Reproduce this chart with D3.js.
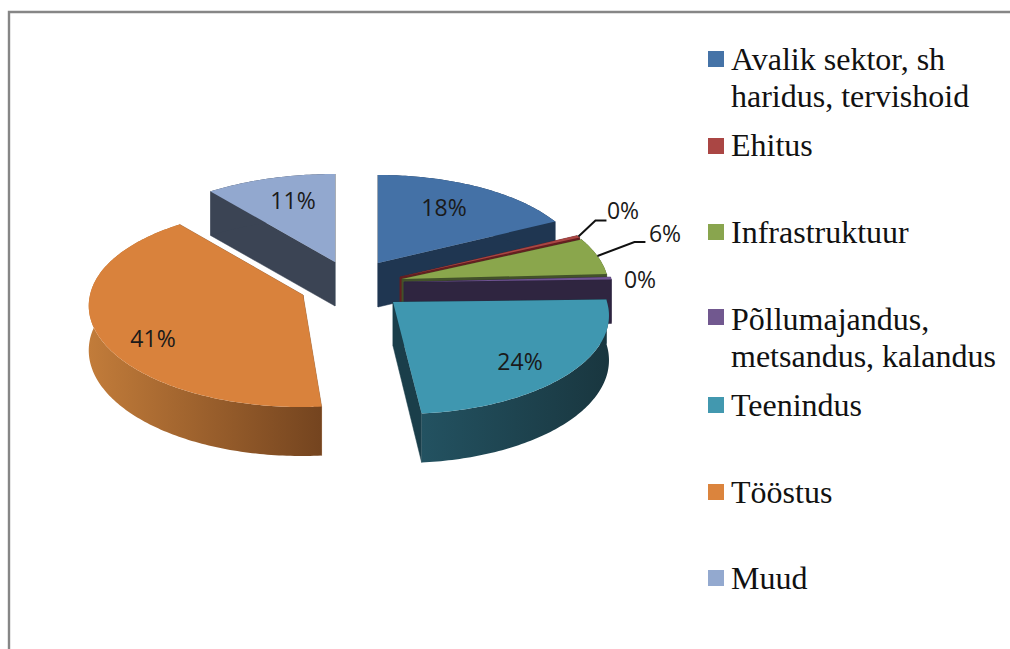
<!DOCTYPE html>
<html><head><meta charset="utf-8">
<script src="https://cdn.jsdelivr.net/npm/d3@7"></script>
<style>html,body{margin:0;padding:0;background:#fff;overflow:hidden}svg{display:block}</style>
</head><body><svg id="c" width="1010" height="649"></svg>
<script>
// ---- data
const categories = ["Avalik sektor, sh|haridus, tervishoid","Ehitus","Infrastruktuur","Põllumajandus,|metsandus, kalandus","Teenindus","Tööstus","Muud"];
const values = [17.8,0.4,6,0.4,24,40.6,10.8];
// ---- styles
const topColors = ["#4471a6","#a94643","#8aa64c","#6f5392","#3f97b0","#d9823c","#92a8cf"];
const wallColors = ["#1f3651","#641f20","#43522a","#2f2540","#1a3e4a","#8a5226","#3b4454"];
const legendColors = ["#4573a7","#aa4644","#89a54e","#71588f","#4298af","#db843d","#93a9cf"];
// ---- layout
const centre = [356,280];
const sliceOffsets = [[22,-17],[44,-3],[46,-1],[48,2],[37,22],[-53,15],[-21,-18]];
const sliceRadius = [206,206,206,208,214,213,215];
const frontSkew = [8,8,8,8,8,-2,8];
const drawOrder = [6,0,1,2,3,5,4];
const labelPos = [[444,216],[623,219],[665,242],[640,288],[520,370],[153,347],[293,209]];
const legendRows = [70,156,243,330,416,503,589];
const swatchRows = [70,157,243,328,416,503,589];
const leader = {1:[[17,-16],[28,-16]], 2:[[37,-14],[48,-14]]};

const svg = d3.select("#c");
const defs = svg.append("defs");
function grad(id,a,b){const g=defs.append("linearGradient").attr("id",id).attr("gradientUnits","objectBoundingBox");
  g.append("stop").attr("offset",0).attr("stop-color",a);g.append("stop").attr("offset",1).attr("stop-color",b);}
grad("orangeWall","#c27c3a","#74441f");
grad("tealWall","#235261","#19363f");

// frame
svg.append("path").attr("d",d3.line()([[9,649],[9,12],[1010,12]])).attr("fill","none").attr("stroke","#868686").attr("stroke-width",2.4);

const pie = d3.pie().sort(null).value(d=>d);
const arcs = pie(values);
const line = d3.line();

// oblique projection of the tilted disc: r in 0..1, a clockwise from the top
function project(r,a,R,skew){
  const s=Math.sin(a),c=Math.cos(a),k=r;
  return [R*k*s*(1-0.1*k*c)+(c<0?skew*k*(-c):0), -k*c*(100-12*k*c)];
}
function height(r,a){const c=Math.cos(a);return 44+5*r*Math.max(0,-c);}
function down(p,h){return [p[0],p[1]+h];}

const sliceG = svg.append("g").attr("transform",`translate(${centre})`);
drawOrder.forEach(i=>{
  const d=arcs[i],R=sliceRadius[i],sk=frontSkew[i];
  const g=sliceG.append("g").attr("transform",`translate(${sliceOffsets[i]})`);
  const angles=d3.range(0,1.0001,1/Math.max(2,Math.ceil((d.endAngle-d.startAngle)*60))).map(t=>d.startAngle+t*(d.endAngle-d.startAngle));
  // radial walls
  [d.startAngle,d.endAngle].forEach(a=>{
    const o=project(0,a,R,sk),e=project(1,a,R,sk);
    g.append("path").attr("fill",wallColors[i]).attr("stroke",wallColors[i]).attr("stroke-width",.5)
     .attr("d",line([o,e,down(e,height(1,a)),down(o,height(0,a))])+"Z");
  });
  // outer wall (front facing part and sides)
  const ring=angles.map(a=>project(1,a,R,sk)).concat(angles.slice().reverse().map(a=>down(project(1,a,R,sk),height(1,a))));
  const wf = i===5?"url(#orangeWall)":i===4?"url(#tealWall)":wallColors[i];
  g.append("path").attr("fill",wf).attr("d",line(ring)+"Z");
  // top
  const top=[project(0,d.startAngle,R,sk)].concat(angles.map(a=>project(1,a,R,sk)));
  g.append("path").attr("fill",topColors[i]).attr("d",line(top)+"Z");
});

// leader lines
Object.keys(leader).forEach(k=>{
  const i=+k,d=arcs[i],a=(d.startAngle+d.endAngle)/2,p=project(1,a,sliceRadius[i],frontSkew[i]);
  const o=sliceOffsets[i],s=[centre[0]+o[0]+p[0],centre[1]+o[1]+p[1]];
  svg.append("path").attr("fill","none").attr("stroke","#111").attr("stroke-width",2)
    .attr("d",line([s].concat(leader[k].map(q=>[s[0]+q[0],s[1]+q[1]]))));
});

// data labels
const total=d3.sum(values),pct=d3.format(".0%");
svg.append("g").selectAll("text").data(values).join("text")
  .attr("x",(d,i)=>labelPos[i][0]).attr("y",(d,i)=>labelPos[i][1])
  .attr("text-anchor","middle").attr("font-family","'Open Sans',sans-serif").attr("font-size",23).attr("fill","#1a1a1a")
  .text(d=>pct(d/total));

// legend
const lg=svg.append("g");
categories.forEach((c,i)=>{
  const y=legendRows[i];
  lg.append("rect").attr("x",708).attr("y",swatchRows[i]-19).attr("width",16).attr("height",16).attr("fill",legendColors[i]);
  c.split("|").forEach((t,j)=>lg.append("text").attr("x",731).attr("y",y+j*36.5)
    .attr("font-family","'Liberation Serif',serif").attr("font-size",32).attr("fill","#111").text(t));
});
</script></body></html>
